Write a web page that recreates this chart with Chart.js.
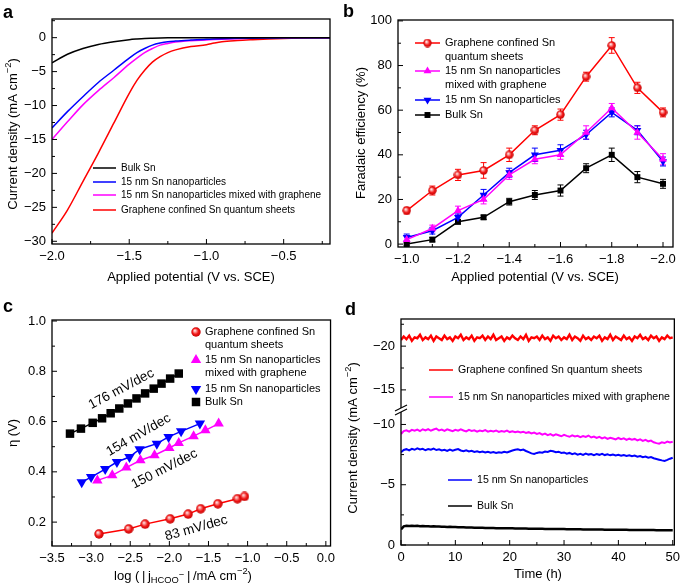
<!DOCTYPE html>
<html>
<head>
<meta charset="utf-8">
<script src="https://cdn.jsdelivr.net/npm/chart.js@4.4.0/dist/chart.umd.min.js"></script>
<style>
  body { margin: 0; background: #fff; width: 685px; height: 587px; position: relative; overflow: hidden;
         font-family: "Liberation Sans", Arial, sans-serif; }
  canvas { position: absolute; }
  .tag { position: absolute; font-weight: bold; font-size: 18px; line-height: 18px; }
</style>
</head>
<body>
<canvas id="chartA" width="340" height="292" style="left:0;top:0"></canvas>
<canvas id="chartB" width="345" height="292" style="left:340px;top:0"></canvas>
<canvas id="chartC" width="340" height="292" style="left:0;top:295px"></canvas>
<canvas id="chartD" width="345" height="292" style="left:340px;top:295px"></canvas>
<div class="tag" style="left:3px;top:3px">a</div>
<div class="tag" style="left:343px;top:2px">b</div>
<div class="tag" style="left:3px;top:297px">c</div>
<div class="tag" style="left:345px;top:300px">d</div>
<script>
// ---- panel a: polarization curves ----
const potA    = [-2.0, -1.9, -1.8, -1.7, -1.6, -1.5, -1.45, -1.4, -1.35, -1.3, -1.25, -1.2, -1.1, -1.0, -0.95, -0.9, -0.8, -0.7, -0.6, -0.5, -0.4, -0.3, -0.2];
const lsvBulk = [-3.7, -2.45, -1.6, -1.0, -0.6, -0.3, -0.2, -0.12, -0.08, -0.05, -0.03, -0.02, -0.01, -0.01, 0, 0, 0, 0, 0, 0, 0, 0, 0];
const lsvNp   = [-13.3, -10.9, -8.7, -6.6, -4.8, -3.0, -2.2, -1.6, -1.1, -0.8, -0.6, -0.5, -0.35, -0.22, -0.18, -0.15, -0.1, -0.07, -0.05, -0.03, -0.02, -0.01, 0];
const lsvNpG  = [-15.0, -12.4, -9.9, -7.8, -5.9, -3.9, -3.0, -2.2, -1.6, -1.1, -0.85, -0.65, -0.45, -0.33, -0.27, -0.22, -0.15, -0.1, -0.06, -0.04, -0.02, -0.01, 0];
const lsvQs   = [-28.8, -25.4, -21.2, -17.0, -12.6, -8.2, -6.3, -4.8, -3.6, -2.8, -2.2, -1.8, -1.3, -1.05, -0.8, -0.6, -0.42, -0.3, -0.2, -0.12, -0.06, -0.02, 0];
const ticksAX = [-2.0, -1.5, -1.0, -0.5];
const ticksAY = [-30, -25, -20, -15, -10, -5, 0];

// ---- panel b: Faradaic efficiency ----
const potB      = [-1.0, -1.1, -1.2, -1.3, -1.4, -1.5, -1.6, -1.7, -1.8, -1.9, -2.0];
const feQs      = [15, 24, 31, 33, 40, 51, 58, 75, 89, 70, 59];
const feQsErr   = [1.5, 2, 2.5, 3.5, 3, 2, 2.5, 2, 3.5, 2.5, 2];
const feNpG     = [2, 7, 15, 20, 31, 38, 40, 50, 61, 50, 38];
const feNpGErr  = [1.5, 1.5, 2, 2, 2, 2, 2, 3, 2, 3, 2.5];
const feNp      = [3, 6, 12, 22, 32, 40, 42, 49, 59, 51, 37];
const feNpErr   = [1.5, 1.5, 1.5, 2.5, 2, 3, 2.5, 2, 2, 2, 2];
const feBulk    = [0, 2, 10, 12, 19, 22, 24, 34, 40, 30, 27];
const feBulkErr = [0.5, 1, 1, 1, 1.5, 2, 2.5, 2, 3, 2.5, 2];
const ticksBX = [-1.0, -1.2, -1.4, -1.6, -1.8, -2.0];
const ticksBY = [0, 20, 40, 60, 80, 100];

// ---- panel c: Tafel plots ----
const logJQs   = [-2.90, -2.52, -2.31, -1.99, -1.76, -1.60, -1.38, -1.13, -1.04];
const etaQs    = [0.153, 0.173, 0.192, 0.213, 0.232, 0.253, 0.273, 0.293, 0.302];
const logJNpG  = [-2.92, -2.73, -2.55, -2.37, -2.19, -2.00, -1.88, -1.69, -1.54, -1.37];
const etaNpG   = [0.366, 0.386, 0.417, 0.446, 0.466, 0.495, 0.515, 0.542, 0.565, 0.592];
const logJNp   = [-3.12, -3.00, -2.82, -2.67, -2.51, -2.38, -2.16, -2.01, -1.85, -1.61];
const etaNp    = [0.359, 0.379, 0.411, 0.439, 0.459, 0.490, 0.512, 0.539, 0.561, 0.592];
const logJBulk = [-3.27, -3.13, -2.98, -2.86, -2.75, -2.64, -2.53, -2.42, -2.31, -2.20, -2.10, -1.99, -1.88];
const etaBulk  = [0.552, 0.572, 0.595, 0.613, 0.633, 0.652, 0.672, 0.692, 0.712, 0.731, 0.751, 0.771, 0.791];
const slopes = ['176 mV/dec', '154 mV/dec', '150 mV/dec', '83 mV/dec'];
const ticksCX = [-3.5, -3.0, -2.5, -2.0, -1.5, -1.0, -0.5, 0.0];
const ticksCY = [0.2, 0.4, 0.6, 0.8, 1.0];

// ---- panel d: stability ----
const timeD = [0,0.5,1,1.5,2,2.5,3,3.5,4,4.5,5,5.5,6,6.5,7,7.5,8,8.5,9,9.5,10,10.5,11,11.5,12,12.5,13,13.5,14,14.5,
  15,15.5,16,16.5,17,17.5,18,18.5,19,19.5,20,20.5,21,21.5,22,22.5,23,23.5,24,24.5,25,25.5,26,26.5,27,27.5,28,28.5,29,29.5,
  30,30.5,31,31.5,32,32.5,33,33.5,34,34.5,35,35.5,36,36.5,37,37.5,38,38.5,39,39.5,40,40.5,41,41.5,42,42.5,43,43.5,44,44.5,
  45,45.5,46,46.5,47,47.5,48,48.5,49,49.5,50];
const jQs = [-20.7,-21.1,-20.8,-21.2,-20.6,-21.0,-20.9,-21.3,-20.7,-21.0,
  -20.8,-21.2,-20.6,-21.1,-20.9,-20.7,-21.2,-20.8,-21.0,-20.6,
  -21.1,-20.9,-21.3,-20.7,-21.0,-20.8,-21.2,-20.6,-21.0,-20.9,
  -21.2,-20.7,-21.1,-20.8,-21.3,-20.7,-20.9,-21.1,-20.6,-21.0,
  -20.8,-21.2,-20.9,-20.7,-21.1,-20.8,-21.3,-20.6,-21.0,-20.9,
  -21.1,-20.7,-21.2,-20.8,-21.0,-20.6,-21.2,-20.9,-21.1,-20.7,
  -21.0,-20.8,-21.3,-20.7,-21.1,-20.9,-20.6,-21.2,-20.8,-21.0,
  -20.7,-21.1,-20.9,-21.2,-20.6,-21.0,-20.8,-21.3,-20.7,-21.1,
  -20.9,-20.7,-21.2,-20.8,-21.0,-20.6,-21.1,-20.9,-21.3,-20.8,
  -21.0,-20.7,-21.2,-20.9,-21.1,-20.6,-21.0,-20.8,-21.2,-20.9,
  -21.0];
const jNpG = [-9.20,-9.45,-9.52,-9.40,-9.55,-9.48,-9.58,-9.45,-9.60,-9.50,
  -9.62,-9.48,-9.58,-9.66,-9.50,-9.57,-9.46,-9.60,-9.52,-9.44,
  -9.56,-9.49,-9.60,-9.50,-9.43,-9.55,-9.47,-9.52,-9.41,-9.50,
  -9.44,-9.53,-9.40,-9.48,-9.42,-9.50,-9.38,-9.46,-9.40,-9.49,
  -9.37,-9.44,-9.35,-9.42,-9.33,-9.40,-9.30,-9.36,-9.25,-9.32,
  -9.22,-9.28,-9.16,-9.24,-9.12,-9.20,-9.08,-9.18,-9.10,-9.02,
  -9.14,-9.05,-8.98,-9.10,-9.00,-9.06,-8.95,-9.04,-8.97,-9.08,
  -8.92,-9.00,-8.88,-8.97,-8.85,-8.93,-8.80,-8.90,-8.84,-8.76,
  -8.88,-8.78,-8.85,-8.72,-8.82,-8.74,-8.80,-8.68,-8.76,-8.64,
  -8.72,-8.60,-8.66,-8.52,-8.45,-8.40,-8.52,-8.46,-8.58,-8.50,
  -8.56];
const jNp = [-7.70,-7.88,-7.95,-7.85,-7.98,-7.90,-8.02,-7.92,-7.98,-7.86,
  -7.96,-7.90,-8.00,-7.88,-7.94,-7.84,-7.90,-7.80,-7.92,-7.83,
  -7.90,-7.96,-7.84,-7.78,-7.86,-7.76,-7.82,-7.72,-7.78,-7.70,
  -7.76,-7.68,-7.74,-7.66,-7.72,-7.64,-7.70,-7.66,-7.74,-7.68,
  -7.76,-7.84,-7.90,-7.94,-7.86,-7.92,-7.80,-7.70,-7.60,-7.56,
  -7.64,-7.70,-7.66,-7.76,-7.72,-7.82,-7.78,-7.70,-7.74,-7.64,
  -7.68,-7.58,-7.64,-7.54,-7.60,-7.50,-7.56,-7.48,-7.58,-7.50,
  -7.55,-7.46,-7.54,-7.48,-7.56,-7.46,-7.52,-7.44,-7.50,-7.42,
  -7.48,-7.40,-7.46,-7.38,-7.44,-7.36,-7.42,-7.32,-7.38,-7.28,
  -7.34,-7.24,-7.30,-7.20,-7.14,-7.08,-7.02,-6.98,-7.06,-7.16,
  -7.24];
const jBulk = [-1.30,-1.55,-1.60,-1.58,-1.60,-1.57,-1.59,-1.56,-1.58,-1.55,-1.56,-1.54,-1.55,-1.53,-1.54,-1.52,-1.52,-1.50,-1.51,-1.49,-1.49,
  -1.48,-1.48,-1.47,-1.46,-1.46,-1.45,-1.44,-1.44,-1.43,-1.43,-1.42,-1.42,-1.41,-1.41,-1.40,-1.40,-1.39,-1.39,-1.38,-1.38,
  -1.38,-1.37,-1.37,-1.36,-1.36,-1.36,-1.35,-1.35,-1.35,-1.34,-1.34,-1.34,-1.33,-1.33,-1.33,-1.33,-1.32,-1.32,-1.32,-1.32,
  -1.31,-1.31,-1.31,-1.30,-1.30,-1.30,-1.29,-1.29,-1.29,-1.29,-1.28,-1.28,-1.28,-1.28,-1.27,-1.27,-1.27,-1.27,-1.26,-1.26,
  -1.26,-1.26,-1.26,-1.25,-1.25,-1.25,-1.25,-1.25,-1.24,-1.24,-1.24,-1.24,-1.24,-1.23,-1.23,-1.23,-1.23,-1.23,-1.23,-1.23];
const ticksDX = [0, 10, 20, 30, 40, 50];
const ticksDYTop = [-20, -15];
const ticksDYBot = [-10, -5, 0];

const LBL_QS = 'Graphene confined Sn quantum sheets';
const LBL_NPG = '15 nm Sn nanoparticles mixed with graphene';
const LBL_NP = '15 nm Sn nanoparticles';
const LBL_BULK = 'Bulk Sn';

const FONT = '"Liberation Sans", Arial, sans-serif';
const RED = '#ff0000', MAG = '#ff00ff', BLUE = '#0000ff', BLACK = '#000000';
Chart.defaults.font.family = FONT;
Chart.defaults.font.size = 13;
Chart.defaults.color = '#000';

const fmt1 = v => v.toFixed(1).replace('-', '\u2212');
const fmt0 = v => String(Math.round(v)).replace('-', '\u2212');
const pts = (xs, ys) => xs.map((x, i) => ({ x: x, y: ys[i] }));

function makeAxis(pos, min, max, ticks, size, fmt, extra) {
    return Object.assign({
        type: 'linear', position: pos, min: min, max: max,
        grid: { display: false, drawTicks: false },
        border: { display: false },
        ticks: { padding: pos === 'left' ? 6 : 5, autoSkip: false, maxRotation: 0, callback: v => fmt(v) },
        afterBuildTicks: s => { s.ticks = ticks.map(v => ({ value: v })); },
        afterFit: s => { if (pos === 'left') s.width = size; else s.height = size; }
    }, extra || {});
}

// shaded ball marker
function ball(d, light) {
    const c = document.createElement('canvas');
    c.width = c.height = d;
    const g = c.getContext('2d');
    const r = d / 2;
    const grad = g.createRadialGradient(r * 0.75, r * 0.7, r * 0.1, r, r, r);
    grad.addColorStop(0, light);
    grad.addColorStop(0.55, '#f21818');
    grad.addColorStop(1, '#c00000');
    g.fillStyle = grad;
    g.beginPath(); g.arc(r, r, r - 0.3, 0, Math.PI * 2); g.fill();
    return c;
}

// text with sub/superscripts, centered at x,y
function rich(ctx, parts, x, y, size, rot) {
    ctx.save();
    ctx.translate(x, y); ctx.rotate(rot || 0);
    ctx.textBaseline = 'alphabetic'; ctx.textAlign = 'left'; ctx.fillStyle = '#000';
    const seg = parts.map(p => {
        const m = p[1] || 0, fs = m ? size * 0.72 : size;
        ctx.font = fs + 'px ' + FONT;
        return { t: p[0], m: m, fs: fs, w: ctx.measureText(p[0]).width };
    });
    let cx = -seg.reduce((s, q) => s + q.w, 0) / 2;
    seg.forEach(q => {
        ctx.font = q.fs + 'px ' + FONT;
        const dy = q.m === 1 ? -size * 0.4 : q.m === -1 ? size * 0.25 : q.m === 2 ? -size * 0.15 : 0;
        ctx.fillText(q.t, cx, size * 0.36 + dy);
        cx += q.w;
    });
    ctx.restore();
}

// box, inward ticks, axis break
const framePlugin = {
    id: 'frame',
    afterDatasetsDraw(chart, args, o) {
        const ctx = chart.ctx, a = chart.chartArea;
        ctx.save();
        ctx.strokeStyle = '#000';
        Object.values(chart.scales).forEach(s => {
            const vals = s.ticks.map(t => t.value);
            const lo = Math.min(s.min, s.max), hi = Math.max(s.min, s.max);
            const list = vals.map(v => [v, 5]);
            if (vals.length > 1) {
                const st = vals[1] - vals[0];
                for (let i = -1; i < vals.length; i++) {
                    const v = vals[0] + (i + 0.5) * st;
                    if (v > lo && v < hi) list.push([v, 3]);
                }
            }
            ctx.lineWidth = 1;
            list.forEach(([v, len]) => {
                const p = s.getPixelForValue(v);
                ctx.beginPath();
                if (s.isHorizontal()) { ctx.moveTo(p, a.bottom); ctx.lineTo(p, a.bottom - len); }
                else { ctx.moveTo(a.left, p); ctx.lineTo(a.left + len, p); }
                ctx.stroke();
            });
        });
        ctx.lineWidth = 1.3;
        ctx.strokeRect(a.left, a.top, a.right - a.left, a.bottom - a.top);
        if (o.brk) {
            const y = chart.scales[o.brk].top;
            ctx.fillStyle = '#fff';
            ctx.fillRect(a.left - 2, y - 2, 4, 4);
            ctx.lineWidth = 1.2;
            [-2, 2].forEach(d => {
                ctx.beginPath();
                ctx.moveTo(a.left - 6, y + d + 3);
                ctx.lineTo(a.left + 6, y + d - 3);
                ctx.stroke();
            });
        }
        ctx.restore();
    }
};

// error bars from dataset.errors
const errPlugin = {
    id: 'errbars',
    beforeDatasetsDraw(chart) {
        const ctx = chart.ctx;
        chart.data.datasets.forEach((ds, i) => {
            if (!ds.errors) return;
            const meta = chart.getDatasetMeta(i);
            const ys = chart.scales[meta.yAxisID];
            ctx.save();
            ctx.strokeStyle = ds.borderColor; ctx.lineWidth = 1;
            meta.data.forEach((pt, j) => {
                const v = ds.data[j].y, e = ds.errors[j];
                const y1 = ys.getPixelForValue(v + e), y2 = ys.getPixelForValue(v - e);
                ctx.beginPath();
                ctx.moveTo(pt.x, y1); ctx.lineTo(pt.x, y2);
                ctx.moveTo(pt.x - 3, y1); ctx.lineTo(pt.x + 3, y1);
                ctx.moveTo(pt.x - 3, y2); ctx.lineTo(pt.x + 3, y2);
                ctx.stroke();
            });
            ctx.restore();
        });
    }
};

// free legend entries inside the plot
const keyPlugin = {
    id: 'key',
    afterDraw(chart, args, o) {
        if (!o.items) return;
        const ctx = chart.ctx;
        ctx.save();
        ctx.font = o.size + 'px ' + FONT;
        ctx.textBaseline = 'middle'; ctx.textAlign = 'left';
        o.items.forEach(it => {
            const ds = chart.data.datasets[it.ds];
            const x0 = it.x !== undefined ? it.x : o.x, y = it.y;
            if (o.line) {
                ctx.strokeStyle = ds.borderColor; ctx.lineWidth = 1.5;
                ctx.beginPath(); ctx.moveTo(x0, y); ctx.lineTo(x0 + o.len, y); ctx.stroke();
            }
            if (o.marker) {
                ctx.fillStyle = ds.pointBackgroundColor; ctx.strokeStyle = ds.borderColor;
                Chart.helpers.drawPoint(ctx, { pointStyle: ds.pointStyle, rotation: ds.pointRotation || 0,
                    radius: ds.pointRadius, borderWidth: 0 }, x0 + o.len / 2, y);
            }
            ctx.fillStyle = '#000';
            (it.lines || [ds.label]).forEach((t, k) => ctx.fillText(t, x0 + o.len + o.gap, y + k * o.lh));
        });
        ctx.restore();
    }
};

// axis titles and annotations
const notesPlugin = {
    id: 'notes',
    afterDraw(chart, args, o) {
        (o.items || []).forEach(it => {
            let x = it.x, y = it.y;
            if (it.vx !== undefined) { x = chart.scales.x.getPixelForValue(it.vx); y = chart.scales.y.getPixelForValue(it.vy); }
            rich(chart.ctx, it.parts, x, y, it.size || 13, (it.rot || 0) * Math.PI / 180);
        });
    }
};

const plugs = [framePlugin, errPlugin, keyPlugin, notesPlugin];
const base = { responsive: false, animation: false, events: [], devicePixelRatio: 1 };
const ROT = -90;

// ---------- a ----------
new Chart(document.getElementById('chartA'), {
    type: 'line',
    data: {
        datasets: [
            { label: LBL_BULK, data: pts(potA, lsvBulk), borderColor: BLACK },
            { label: LBL_NP, data: pts(potA, lsvNp), borderColor: BLUE },
            { label: LBL_NPG, data: pts(potA, lsvNpG), borderColor: MAG },
            { label: LBL_QS, data: pts(potA, lsvQs), borderColor: RED }
        ].map(d => Object.assign(d, { borderWidth: 1.5, pointRadius: 0, cubicInterpolationMode: 'monotone' }))
    },
    options: Object.assign({}, base, {
        layout: { padding: { top: 19, right: 10, left: 0, bottom: 0 } },
        scales: {
            x: makeAxis('bottom', -2.0, -0.2, ticksAX, 48, fmt1),
            y: makeAxis('left', -30.4, 2.75, ticksAY, 52, fmt0)
        },
        plugins: {
            legend: { display: false }, tooltip: { enabled: false },
            key: { x: 93, len: 23, gap: 5, size: 10, lh: 13, line: true,
                   items: [{ ds: 0, y: 168 }, { ds: 1, y: 182 }, { ds: 2, y: 195 }, { ds: 3, y: 210 }] },
            notes: { items: [
                { parts: [['Applied potential (V vs. SCE)']], x: 191, y: 276 },
                { parts: [['Current density (mA cm'], ['\u22122', 1], [')']], x: 12, y: 134, rot: ROT }
            ] }
        }
    }),
    plugins: plugs
});

// ---------- b ----------
const ballB = ball(9, '#ffe8e8');
new Chart(document.getElementById('chartB'), {
    type: 'line',
    data: {
        datasets: [
            { label: LBL_QS, data: pts(potB, feQs), errors: feQsErr, borderColor: RED, pointBackgroundColor: RED,
              pointStyle: ballB, pointRadius: 4.5 },
            { label: LBL_NPG, data: pts(potB, feNpG), errors: feNpGErr, borderColor: MAG, pointBackgroundColor: MAG,
              pointStyle: 'triangle', pointRadius: 4.6 },
            { label: LBL_NP, data: pts(potB, feNp), errors: feNpErr, borderColor: BLUE, pointBackgroundColor: BLUE,
              pointStyle: 'triangle', pointRotation: 180, pointRadius: 4.6 },
            { label: LBL_BULK, data: pts(potB, feBulk), errors: feBulkErr, borderColor: BLACK, pointBackgroundColor: BLACK,
              pointStyle: 'rect', pointRadius: 4.2 }
        ].map(d => Object.assign(d, { borderWidth: 1.5, pointBorderWidth: 0, tension: 0, clip: false }))
    },
    options: Object.assign({}, base, {
        layout: { padding: { top: 20, right: 12, left: 0, bottom: 0 } },
        scales: {
            x: makeAxis('bottom', -2.039, -0.966, ticksBX, 45, fmt1, { reverse: true }),
            y: makeAxis('left', -1.3, 100.4, ticksBY, 58, fmt0)
        },
        plugins: {
            legend: { display: false }, tooltip: { enabled: false },
            key: { x: 75, len: 25, gap: 5, size: 11, lh: 13.5, line: true, marker: true,
                   items: [{ ds: 0, y: 43, lines: ['Graphene confined Sn', 'quantum sheets'] },
                           { ds: 1, y: 71, lines: ['15 nm Sn nanoparticles', 'mixed with graphene'] },
                           { ds: 2, y: 100 }, { ds: 3, y: 115 }] },
            notes: { items: [
                { parts: [['Applied potential (V vs. SCE)']], x: 195, y: 276 },
                { parts: [['Faradaic efficiency (%)']], x: 20, y: 133, rot: ROT }
            ] }
        }
    }),
    plugins: plugs
});

// ---------- c ----------
const ballC = ball(10, '#ffd8d8');
new Chart(document.getElementById('chartC'), {
    type: 'scatter',
    data: {
        datasets: [
            { label: LBL_QS, data: pts(logJQs, etaQs), borderColor: RED, pointBackgroundColor: RED,
              pointStyle: ballC, pointRadius: 5 },
            { label: LBL_NPG, data: pts(logJNpG, etaNpG), borderColor: MAG, pointBackgroundColor: MAG,
              pointStyle: 'triangle', pointRadius: 6 },
            { label: LBL_NP, data: pts(logJNp, etaNp), borderColor: BLUE, pointBackgroundColor: BLUE,
              pointStyle: 'triangle', pointRotation: 180, pointRadius: 6 },
            { label: LBL_BULK, data: pts(logJBulk, etaBulk), borderColor: BLACK, pointBackgroundColor: BLACK,
              pointStyle: 'rect', pointRadius: 6 }
        ].map(d => Object.assign(d, { showLine: true, borderWidth: 1.5, pointBorderWidth: 0, clip: false }))
    },
    options: Object.assign({}, base, {
        layout: { padding: { top: 25, right: 7, left: 0, bottom: 0 } },
        scales: {
            x: makeAxis('bottom', -3.5, 0.06, ticksCX, 41, fmt1),
            y: makeAxis('left', 0.105, 1.004, ticksCY, 52, fmt1)
        },
        plugins: {
            legend: { display: false }, tooltip: { enabled: false },
            key: { x: 191, len: 10, gap: 4, size: 11, lh: 13, marker: true,
                   items: [{ ds: 0, y: 37, lines: ['Graphene confined Sn', 'quantum sheets'] },
                           { ds: 1, y: 65, lines: ['15 nm Sn nanoparticles', 'mixed with graphene'] },
                           { ds: 2, y: 94 }, { ds: 3, y: 107 }] },
            notes: { items: [
                { parts: [['log (\u2009|\u2009j'], ['HCOO', -1], ['\u2212', 2], ['\u2009|\u2009/mA cm'], ['\u22122', 1], [')']], x: 183, y: 280 },
                { parts: [['\u03b7 (V)']], x: 12, y: 138, rot: ROT },
                { parts: [[slopes[0]]], vx: -2.62, vy: 0.733, rot: -28, size: 13.5 },
                { parts: [[slopes[1]]], vx: -2.40, vy: 0.55, rot: -30, size: 13.5 },
                { parts: [[slopes[2]]], vx: -2.07, vy: 0.415, rot: -27, size: 13.5 },
                { parts: [[slopes[3]]], vx: -1.66, vy: 0.18, rot: -15.5, size: 13.5 }
            ] }
        }
    }),
    plugins: plugs
});

// ---------- d ----------
new Chart(document.getElementById('chartD'), {
    type: 'line',
    data: {
        datasets: [
            { label: LBL_QS, data: pts(timeD, jQs), borderColor: RED, yAxisID: 'yTop', borderWidth: 2.4 },
            { label: LBL_NPG, data: pts(timeD, jNpG), borderColor: MAG, yAxisID: 'yBot', borderWidth: 2 },
            { label: LBL_NP, data: pts(timeD, jNp), borderColor: BLUE, yAxisID: 'yBot', borderWidth: 2 },
            { label: LBL_BULK, data: pts(timeD, jBulk), borderColor: BLACK, yAxisID: 'yBot', borderWidth: 2.5 }
        ].map(d => Object.assign(d, { pointRadius: 0, tension: 0 }))
    },
    options: Object.assign({}, base, {
        layout: { padding: { top: 24, right: 8, left: 0, bottom: 0 } },
        scales: {
            x: makeAxis('bottom', 0, 50.3, ticksDX, 42, fmt0),
            yBot: makeAxis('left', -11.2, 0, ticksDYBot, 61, fmt0, { reverse: true, stack: 'cd', stackWeight: 135 }),
            yTop: makeAxis('left', -23.1, -12.7, ticksDYTop, 61, fmt0, { reverse: true, stack: 'cd', stackWeight: 91 })
        },
        plugins: {
            legend: { display: false }, tooltip: { enabled: false },
            frame: { brk: 'yBot' },
            key: { len: 24, gap: 5, size: 10.6, lh: 13, line: true,
                   items: [{ ds: 0, x: 89, y: 75 }, { ds: 1, x: 89, y: 102 },
                           { ds: 2, x: 108, y: 185 }, { ds: 3, x: 108, y: 211 }] },
            notes: { items: [
                { parts: [['Time (h)']], x: 198, y: 278 },
                { parts: [['Current density (mA cm'], ['\u22122', 1], [')']], x: 12, y: 143, rot: ROT }
            ] }
        }
    }),
    plugins: plugs
});
</script>
</body>
</html>
